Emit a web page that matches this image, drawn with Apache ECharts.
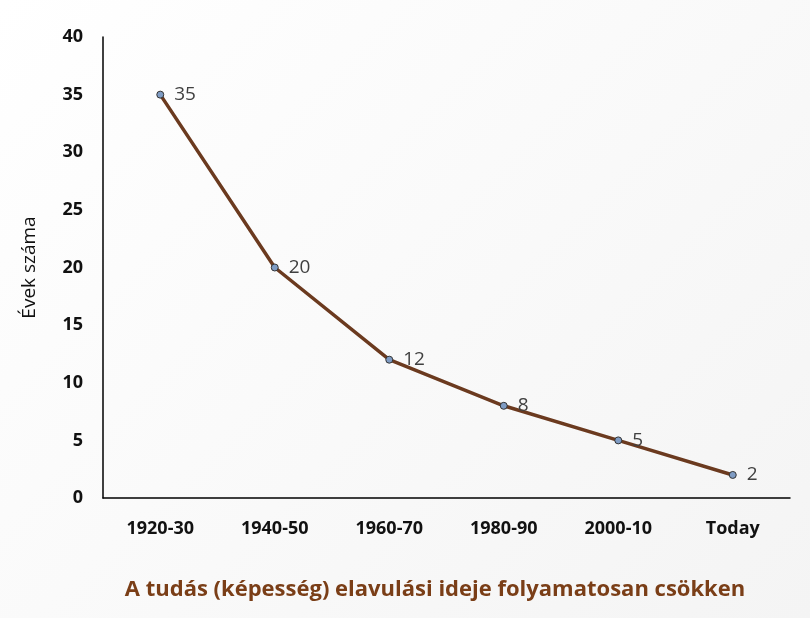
<!DOCTYPE html>
<html lang="hu">
<head>
<meta charset="UTF-8">
<title>Chart</title>
<script src="https://cdn.jsdelivr.net/npm/echarts@6/dist/echarts.min.js"></script>
<style>
  body { margin: 0; background: linear-gradient(135deg, #ffffff 0%, #f4f4f4 100%); }
  #main { width: 810px; height: 618px; }
</style>
</head>
<body>
<div id="main"></div>
<script>
// adatok
var categories = ['1920-30', '1940-50', '1960-70', '1980-90', '2000-10', 'Today'];
var values = [35, 20, 12, 8, 5, 2];

var myChart = echarts.init(document.getElementById('main'));
var option = {
    backgroundColor: 'transparent',
    textStyle: { fontFamily: 'Open Sans' },
    title: {
        text: 'A tudás (képesség) elavulási ideje folyamatosan csökken',
        left: 430, top: 574, textAlign: 'center',
        textStyle: { color: '#7a3e17', fontSize: 22, fontWeight: 'bold', fontFamily: 'Open Sans' }
    },
    grid: { left: 103, right: 20, top: 37, bottom: 120 },
    xAxis: {
        type: 'category',
        data: categories,
        axisLine: { lineStyle: { color: '#000', width: 1.5 } },
        axisTick: { show: false },
        axisLabel: { color: '#111', fontSize: 18, fontWeight: 'bold', margin: 22 }
    },
    yAxis: {
        type: 'value',
        min: 0, max: 40, interval: 5,
        name: 'Évek száma',
        nameLocation: 'middle',
        nameGap: 64,
        nameTextStyle: { color: '#111', fontSize: 19 },
        axisLine: { show: true, lineStyle: { color: '#000', width: 1.5 } },
        axisTick: { show: false },
        splitLine: { show: false },
        axisLabel: { color: '#111', fontSize: 18, fontWeight: 'bold', margin: 20 }
    },
    series: [{
        type: 'line',
        data: values,
        symbol: 'circle',
        symbolSize: 7,
        lineStyle: { color: '#6b3a1f', width: 3.5 },
        itemStyle: { color: '#7f9cc4', borderColor: '#333', borderWidth: 1 },
        label: { show: true, position: 'right', distance: 10, color: '#404040', fontSize: 19 }
    }]
};
myChart.setOption(option);
</script>
</body>
</html>
